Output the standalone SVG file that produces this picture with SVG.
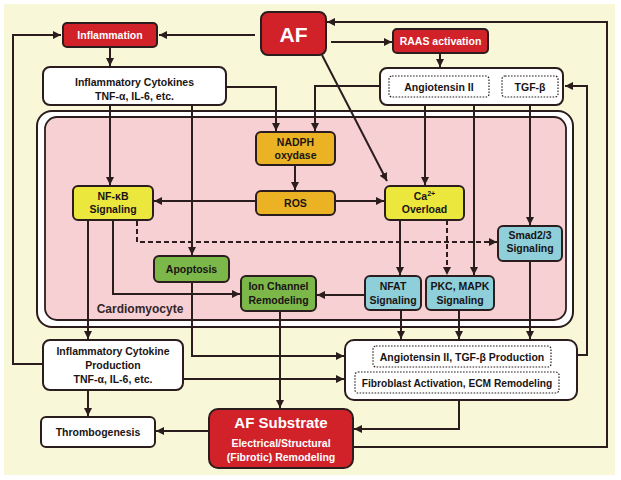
<svg xmlns="http://www.w3.org/2000/svg" width="621" height="480" viewBox="0 0 621 480">
<defs>
<marker id="ah" viewBox="0 0 10 10" refX="10" refY="5" markerWidth="8" markerHeight="8" markerUnits="userSpaceOnUse" orient="auto"><path d="M0,0 L10,5 L0,10 z" fill="#2b1d1d"/></marker>
<style>
.bx{stroke:#2b1d1d;stroke-width:2}
.red{fill:#d1222a}
.wh{fill:#ffffff}
.gold{fill:#ebb324}
.yel{fill:#ebe73c}
.grn{fill:#7cb749}
.blu{fill:#8ecfda}
.dot{fill:#ffffff;stroke:#2b1d1d;stroke-width:1.2;stroke-dasharray:1.6 1.4}
text{font-family:"Liberation Sans",Arial,sans-serif;font-weight:bold;font-size:10.5px;text-anchor:middle;fill:#1a1414}
.wt{fill:#ffffff}
.c{fill:none;stroke:#2b1d1d;stroke-width:2;marker-end:url(#ah)}
.cn{fill:none;stroke:#2b1d1d;stroke-width:2}
.d{stroke-dasharray:5 3}
</style>
</defs>
<rect x="4" y="4" width="611" height="471" fill="#f8f7d8"/>
<g id="cardiomyocyte">
<rect x="37" y="111" width="536" height="216" rx="15" class="bx wh"/>
<rect x="45" y="117" width="521" height="203" rx="12" fill="#f7d0d4" stroke="#2b1d1d" stroke-width="1.8"/>
<text x="140" y="313" style="font-size:12px;fill:#33262a">Cardiomyocyte</text>
</g>
<g id="connectors">
<path class="c" d="M255,35 L159,35"/>
<path class="c" d="M43,364 L13,364 L13,35 L61,35"/>
<path class="c" d="M110,47 L110,66"/>
<path class="c" d="M331,42 L392,42"/>
<path class="c" d="M440,53 L440,67"/>
<path class="c" d="M227,87 L276,87 L276,131"/>
<path class="c" d="M389,86 L315,86 L315,131"/>
<path class="c" d="M322,55 L387,181"/>
<path class="c" d="M425,105 L425,185"/>
<path class="c" d="M474,105 L474,275"/>
<path class="c" d="M530,105 L530,225"/>
<path class="c" d="M110,105 L110,185"/>
<path class="c" d="M192,105 L192,255"/>
<path class="c" d="M295,165 L295,190"/>
<path class="c" d="M256,201 L154,201"/>
<path class="c" d="M336,201 L384,201"/>
<path class="c d" d="M137,221 L137,242 L497,242"/>
<path class="c" d="M400,220 L400,275"/>
<path class="c d" d="M447,220 L447,275"/>
<path class="c" d="M113,220 L113,294 L240,294"/>
<path class="c" d="M88,220 L88,339"/>
<path class="c" d="M365,295 L317,295"/>
<path class="c" d="M192,282 L192,356 L344,356"/>
<path class="c" d="M280,311 L280,408"/>
<path class="c" d="M401,310 L401,339"/>
<path class="c" d="M459,310 L459,339"/>
<path class="c" d="M530,261 L530,339"/>
<path class="c" d="M183,379 L344,379"/>
<path class="c" d="M88,390 L88,416"/>
<path class="c" d="M208,431 L156,431"/>
<path class="c" d="M459,400 L459,429 L354,429"/>
<path class="c" d="M354,447 L607,447 L607,22 L327,22"/>
<path class="c" d="M553,355 L587,355 L587,86 L565,86"/>
</g>
<g id="af">
<rect x="261" y="12" width="65" height="43" rx="7" class="bx red"/>
<text x="293.5" y="42" class="wt" style="font-size:21px">AF</text>
</g>
<g id="inflammation">
<rect x="63" y="23" width="94" height="24" rx="4" class="bx red"/>
<text x="110" y="39" class="wt">Inflammation</text>
</g>
<g id="raas">
<rect x="393" y="29" width="95" height="24" rx="4" class="bx red"/>
<text x="440.5" y="45" class="wt">RAAS activation</text>
</g>
<g id="inflammatory-cytokines">
<rect x="43" y="67" width="183" height="38" rx="7" class="bx wh"/>
<text x="134.5" y="86">Inflammatory Cytokines</text>
<text x="134.5" y="99.5">TNF-α, IL-6, etc.</text>
</g>
<g id="angiotensin-tgf">
<rect x="380" y="68" width="183" height="37" rx="7" class="bx wh"/>
<rect x="389" y="76" width="100" height="21" rx="3" class="dot"/>
<text x="439" y="90.5">Angiotensin II</text>
<rect x="502" y="76" width="56" height="21" rx="3" class="dot"/>
<text x="530" y="90.5">TGF-β</text>
</g>
<g id="nadph">
<rect x="256" y="132" width="79" height="33" rx="5" class="bx gold"/>
<text x="295.5" y="146">NADPH</text>
<text x="295.5" y="159">oxydase</text>
</g>
<g id="ros">
<rect x="256" y="191" width="79" height="24" rx="5" class="bx gold"/>
<text x="295.5" y="207">ROS</text>
</g>
<g id="nfkb">
<rect x="73" y="186" width="80" height="34" rx="5" class="bx yel"/>
<text x="113" y="200">NF-κB</text>
<text x="113" y="213">Signaling</text>
</g>
<g id="ca">
<rect x="385" y="186" width="79" height="34" rx="5" class="bx yel"/>
<text x="424.5" y="200">Ca<tspan dy="-4" style="font-size:7px">2+</tspan></text>
<text x="424.5" y="213">Overload</text>
</g>
<g id="smad">
<rect x="498" y="226" width="64" height="35" rx="5" class="bx blu"/>
<text x="530" y="239">Smad2/3</text>
<text x="530" y="252">Signaling</text>
</g>
<g id="apoptosis">
<rect x="154" y="256" width="75" height="26" rx="5" class="bx grn"/>
<text x="191.5" y="273">Apoptosis</text>
</g>
<g id="ion-channel">
<rect x="241" y="276" width="75" height="35" rx="5" class="bx grn"/>
<text x="278.5" y="290">Ion Channel</text>
<text x="278.5" y="303.5">Remodeling</text>
</g>
<g id="nfat">
<rect x="365" y="276" width="56" height="34" rx="5" class="bx blu"/>
<text x="393" y="290">NFAT</text>
<text x="393" y="303.5">Signaling</text>
</g>
<g id="pkc-mapk">
<rect x="426" y="276" width="68" height="34" rx="5" class="bx blu"/>
<text x="460" y="290">PKC, MAPK</text>
<text x="460" y="303.5">Signaling</text>
</g>
<g id="cytokine-production">
<rect x="43" y="340" width="140" height="50" rx="7" class="bx wh"/>
<text x="113" y="355">Inflammatory Cytokine</text>
<text x="113" y="369">Production</text>
<text x="113" y="383">TNF-α, IL-6, etc.</text>
</g>
<g id="production-remodeling">
<rect x="345" y="340" width="232" height="60" rx="9" class="bx wh"/>
<rect x="373" y="346" width="178" height="21" rx="3" class="dot"/>
<text x="462" y="360.5">Angiotensin II, TGF-β Production</text>
<rect x="355" y="372" width="204" height="21" rx="3" class="dot"/>
<text x="457" y="386.5" style="font-size:10.2px">Fibroblast Activation, ECM Remodeling</text>
</g>
<g id="thrombogenesis">
<rect x="41" y="417" width="114" height="30" rx="5" class="bx wh"/>
<text x="98" y="436">Thrombogenesis</text>
</g>
<g id="af-substrate">
<rect x="209" y="409" width="144" height="59" rx="9" class="bx red"/>
<text x="281" y="428" class="wt" style="font-size:15px">AF Substrate</text>
<text x="281" y="447" class="wt">Electrical/Structural</text>
<text x="281" y="461" class="wt">(Fibrotic) Remodeling</text>
</g>
</svg>
